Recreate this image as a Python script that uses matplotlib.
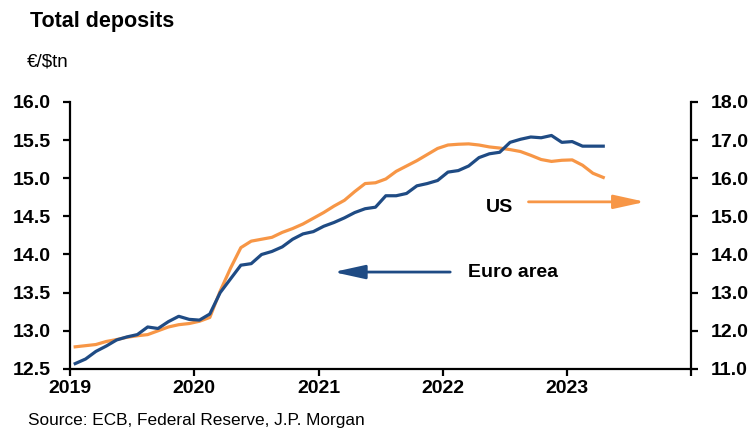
import numpy as np
import matplotlib
matplotlib.use('Agg')
import matplotlib.pyplot as plt

plt.rcParams['font.family'] = ['Liberation Sans', 'DejaVu Sans']

# monthly data, Jan 2019 - Apr 2023 (plotted mid-month)
start_year = 2019
euro_area = [12.57, 12.63, 12.73, 12.80, 12.88, 12.92, 12.95, 13.05, 13.03, 13.12,
             13.19, 13.15, 13.14, 13.22, 13.50, 13.68, 13.86, 13.88, 14.00, 14.04,
             14.10, 14.20, 14.27, 14.30, 14.37, 14.42, 14.48, 14.55, 14.60, 14.62,
             14.77, 14.77, 14.80, 14.90, 14.93, 14.97, 15.08, 15.10, 15.16, 15.27,
             15.32, 15.34, 15.47, 15.51, 15.54, 15.53, 15.56, 15.47, 15.48, 15.42,
             15.42, 15.42]
us = [11.58, 11.61, 11.64, 11.72, 11.77, 11.83, 11.87, 11.90, 12.00, 12.10,
      12.16, 12.19, 12.25, 12.35, 13.04, 13.64, 14.18, 14.35, 14.40, 14.45,
      14.58, 14.68, 14.80, 14.95, 15.10, 15.27, 15.42, 15.65, 15.86, 15.88,
      15.98, 16.18, 16.32, 16.46, 16.62, 16.78, 16.87, 16.89, 16.90, 16.87,
      16.82, 16.79, 16.75, 16.70, 16.60, 16.49, 16.44, 16.47, 16.48, 16.34,
      16.13, 16.02]
years = [2019, 2020, 2021, 2022, 2023, 2024]
year_labels = ['2019', '2020', '2021', '2022', '2023', '']
left_ticks = [12.5, 13.0, 13.5, 14.0, 14.5, 15.0, 15.5, 16.0]
right_ticks = [11, 12, 13, 14, 15, 16, 17, 18]

blue = '#1f4b84'
orange = '#f79646'

t = start_year + (np.arange(len(euro_area)) + 0.5) / 12.0

fig = plt.figure(figsize=(7.53, 4.30), dpi=100)
ax = fig.add_axes([0.093, 0.142, 0.825, 0.621])
ax2 = ax.twinx()

ax.plot(t, euro_area, color=blue, lw=2.3, zorder=3)
ax2.plot(t, us, color=orange, lw=2.3, zorder=2)
ax.set_zorder(ax2.get_zorder() + 1)
ax.patch.set_visible(False)

ax.set_xlim(2019, 2024)
ax.set_ylim(12.5, 16.0)
ax2.set_ylim(11, 18)
ax.set_xticks(years)
ax.set_xticklabels(year_labels)
ax.set_yticks(left_ticks)
ax.set_yticklabels(['%.1f' % v for v in left_ticks])
ax2.set_yticks(right_ticks)
ax2.set_yticklabels(['%.1f' % v for v in right_ticks])

for a in (ax, ax2):
    a.spines['top'].set_visible(False)
    for s in a.spines.values():
        s.set_linewidth(1.6)
ax.spines['right'].set_visible(False)
ax2.spines['left'].set_visible(False)
ax2.spines['bottom'].set_visible(False)

ax.tick_params(axis='y', length=5, width=1.6, pad=9, labelsize=14)
ax.tick_params(axis='x', length=5, width=1.6, pad=3, labelsize=14)
ax2.tick_params(axis='y', length=5, width=1.6, pad=9, labelsize=14)
for lab in ax.get_xticklabels() + ax.get_yticklabels() + ax2.get_yticklabels():
    lab.set_fontweight('bold')

# annotations
ax.annotate('', xy=(2023.63, 14.69), xytext=(2022.69, 14.69),
            arrowprops=dict(arrowstyle='-|>,head_length=1.0,head_width=0.22',
                            mutation_scale=19, lw=2, color=orange,
                            shrinkA=0, shrinkB=0))
ax.text(2022.46, 14.62, 'US', ha='center', va='center', fontsize=14,
        fontweight='bold')
ax.annotate('', xy=(2021.12, 13.77), xytext=(2022.06, 13.77),
            arrowprops=dict(arrowstyle='-|>,head_length=1.0,head_width=0.22',
                            mutation_scale=19, lw=2, color=blue,
                            shrinkA=0, shrinkB=0))
ax.text(2022.2, 13.76, 'Euro area', ha='left', va='center', fontsize=14,
        fontweight='bold')

fig.text(0.040, 0.949, 'Total deposits', ha='left', va='center', fontsize=15.5,
         fontweight='bold')
fig.text(0.036, 0.856, '€/$tn', ha='left', va='center', fontsize=13.5)
fig.text(0.037, 0.023, 'Source: ECB, Federal Reserve, J.P. Morgan', ha='left',
         va='center', fontsize=12.4)

fig.savefig('out.png', dpi=100)
